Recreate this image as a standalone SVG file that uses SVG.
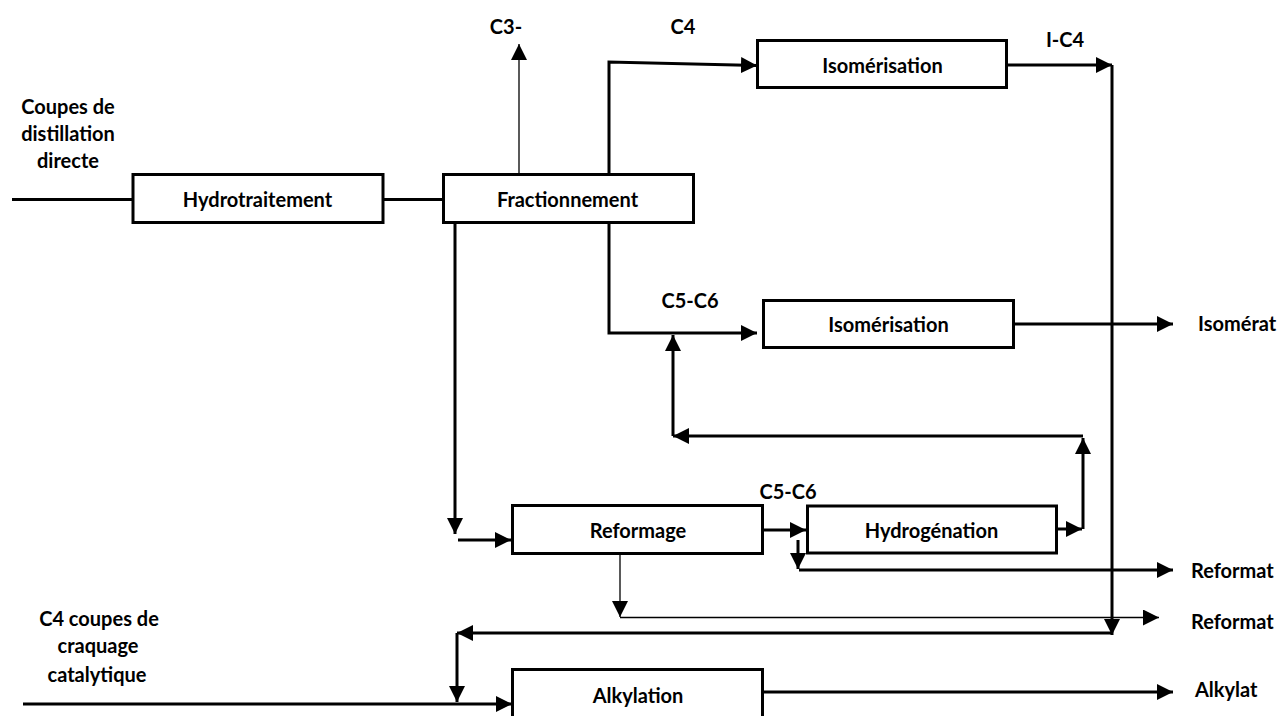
<svg xmlns="http://www.w3.org/2000/svg" width="1278" height="716" viewBox="0 0 1278 716">
<defs>
<marker id="ah" markerUnits="userSpaceOnUse" viewBox="0 0 16 16" markerWidth="16" markerHeight="16" refX="16" refY="8" orient="auto">
<path d="M0,0 L16,8 L0,16 z" fill="#000"/>
</marker>
</defs>
<style>
.box{fill:#fff;stroke:#000;stroke-width:3}
.t{font-family:Lato,"Liberation Sans",sans-serif;font-weight:bold;font-size:20px;fill:#000}
.c{text-anchor:middle}
.k{fill:none;stroke:#000;stroke-width:3}
.n{fill:none;stroke:#000;stroke-width:1.3}
.a{marker-end:url(#ah)}
</style>
<rect width="1278" height="716" fill="#fff"/>
<g id="connectors">
<path class="k" d="M12,199.5 H133"/>
<path class="k" d="M383,199.5 H443"/>
<path class="n a" d="M519,173 V44"/>
<path class="k a" d="M609,173 V62 L757,65.5"/>
<path class="k a" d="M1007,65 H1112"/>
<path class="k a" d="M1112,65 V635"/>
<path class="k a" d="M1112,633 H457"/>
<path class="k a" d="M457,633 V702"/>
<path class="k a" d="M23,704 H512"/>
<path class="k a" d="M764,692 H1173"/>
<path class="k a" d="M455,223 V534"/>
<path class="k a" d="M458,540 H511"/>
<path class="k a" d="M609,223 V333 H757"/>
<path class="k a" d="M1014,324 H1173"/>
<path class="k a" d="M1057,529 H1082"/>
<path class="k a" d="M1083,529 V438"/>
<path class="k a" d="M1083,436 H673"/>
<path class="k a" d="M673,436 V335"/>
<path class="k a" d="M763,530 H806"/>
<path class="k a" d="M798,540 V569"/>
<path class="k a" d="M799,570 H1173"/>
<path class="n a" d="M620,554 V617"/>
<path class="n a" d="M620,617.5 H1159"/>
</g>
<g id="hydrotraitement"><rect class="box" x="133" y="174.5" width="250" height="48"/><text class="t c" x="257.5" y="207">Hydrotraitement</text></g>
<g id="fractionnement"><rect class="box" x="443.5" y="174.5" width="250" height="48"/><text class="t c" x="567.5" y="207">Fractionnement</text></g>
<g id="isomerisation1"><rect class="box" x="757.5" y="40.5" width="249" height="47"/><text class="t c" x="882.5" y="73">Isomérisation</text></g>
<g id="isomerisation2"><rect class="box" x="763.5" y="300.5" width="250" height="47"/><text class="t c" x="888.5" y="332">Isomérisation</text></g>
<g id="reformage"><rect class="box" x="512.5" y="505.5" width="250" height="48"/><text class="t c" x="638" y="538">Reformage</text></g>
<g id="hydrogenation"><rect class="box" x="807.5" y="506" width="249" height="47"/><text class="t c" x="931.5" y="538">Hydrogénation</text></g>
<g id="alkylation"><rect class="box" x="512.5" y="669.5" width="250" height="60"/><text class="t c" x="638" y="703">Alkylation</text></g>
<g id="labels">
<text class="t c" x="68" y="114">Coupes de</text>
<text class="t c" x="68" y="141">distillation</text>
<text class="t c" x="68" y="168">directe</text>
<text class="t c" x="99" y="626">C4 coupes de</text>
<text class="t c" x="98" y="653">craquage</text>
<text class="t c" x="97" y="682">catalytique</text>
<text class="t c" x="506" y="34">C3-</text>
<text class="t c" x="683" y="34">C4</text>
<text class="t c" x="1065" y="47">I-C4</text>
<text class="t c" x="690" y="308">C5-C6</text>
<text class="t c" x="788" y="499">C5-C6</text>
<text class="t" x="1198" y="331">Isomérat</text>
<text class="t" x="1191" y="578">Reformat</text>
<text class="t" x="1191" y="629">Reformat</text>
<text class="t" x="1195" y="697">Alkylat</text>
</g>
</svg>
